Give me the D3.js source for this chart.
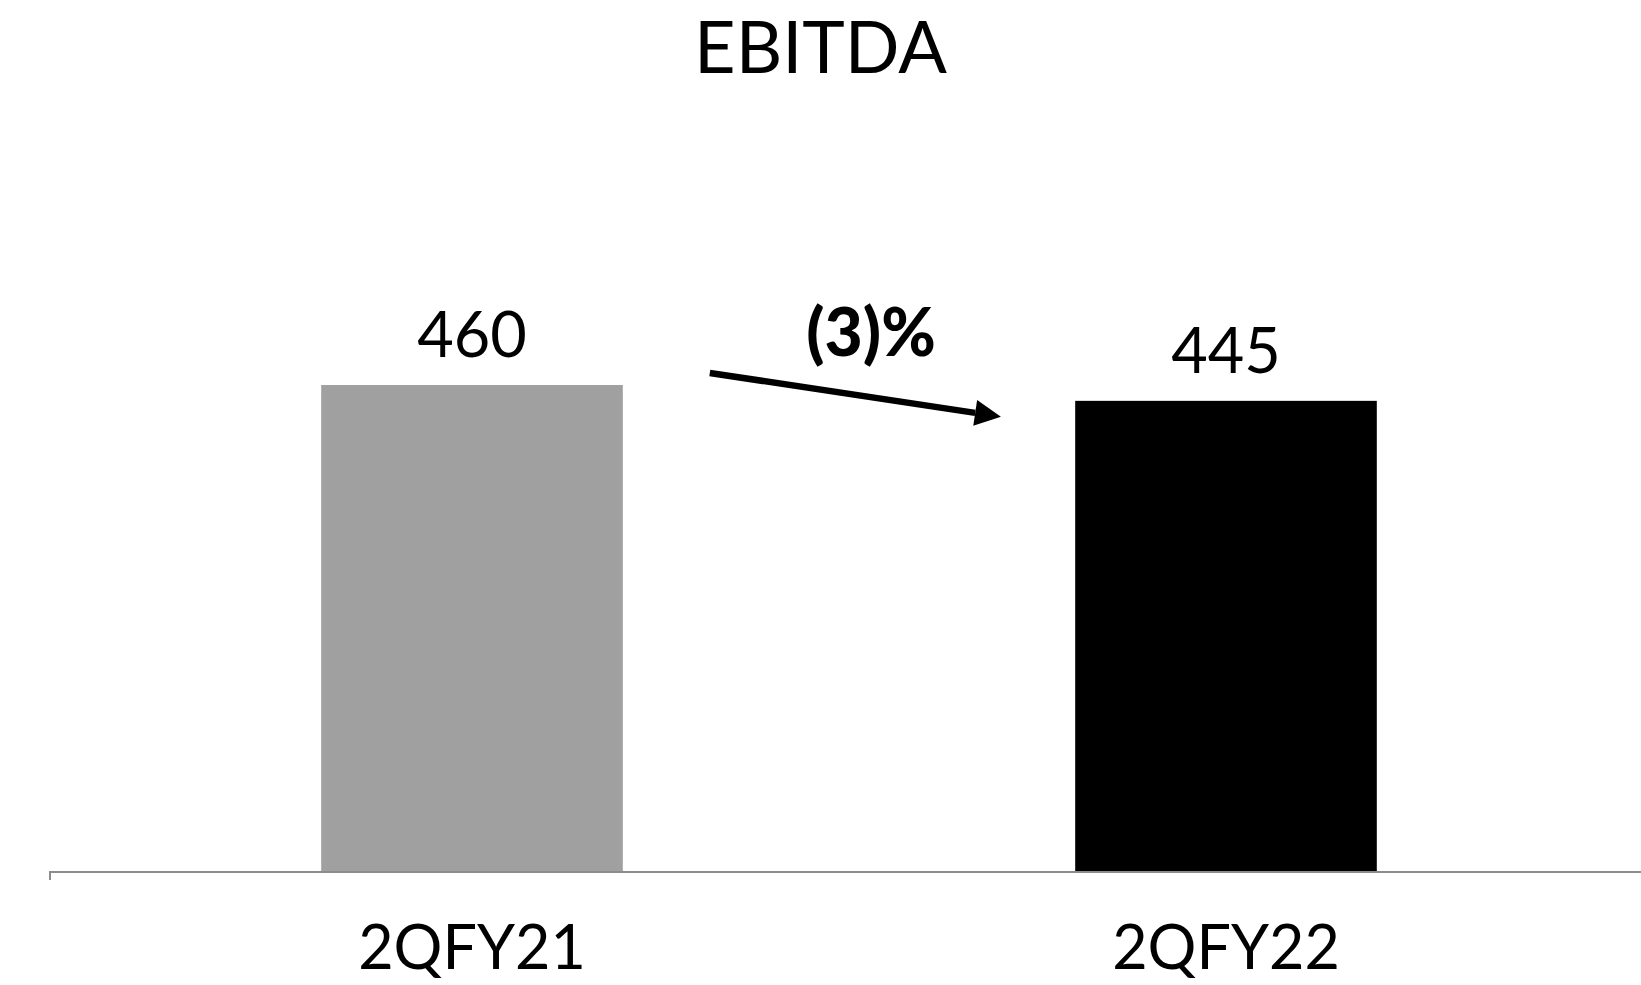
<!DOCTYPE html>
<html>
<head>
<meta charset="utf-8">
<script src="https://cdn.jsdelivr.net/npm/d3@7"></script>
<style>
  html, body { margin: 0; padding: 0; background: #fff; }
  svg { display: block; }
  text { font-family: Lato, "Noto Sans", sans-serif; fill: #000; }
</style>
</head>
<body>
<svg id="chart" width="1641" height="985"></svg>
<script>
// EBITDA by quarter
const periods = ["2QFY21", "2QFY22"];
const ebitda = [460, 445];
const barColors = ["#a0a0a0", "#000000"];
const changeLabel = "(3)%";
const title = "EBITDA";

const W = 1641, H = 985;
const svg = d3.select("#chart");

const x = d3.scaleBand()
  .domain(periods)
  .range([95, 1603])
  .paddingInner(0.6)
  .paddingOuter(0.3);

const y = d3.scaleLinear()
  .domain([0, 460])
  .range([871, 385]);

// Title
svg.append("text")
  .attr("x", W / 2)
  .attr("y", 73)
  .attr("text-anchor", "middle")
  .style("font-size", "72px")
  .text(title);

// Bars
svg.selectAll("rect.bar")
  .data(periods)
  .join("rect")
  .attr("class", "bar")
  .attr("x", d => x(d))
  .attr("width", x.bandwidth())
  .attr("y", (d, i) => y(ebitda[i]))
  .attr("height", (d, i) => y(0) - y(ebitda[i]))
  .attr("fill", (d, i) => barColors[i]);

// Value labels
svg.selectAll("text.value")
  .data(periods)
  .join("text")
  .attr("class", "value")
  .attr("x", d => x(d) + x.bandwidth() / 2)
  .attr("y", (d, i) => y(ebitda[i]) - 28)
  .attr("text-anchor", "middle")
  .style("font-size", "63px")
  .text((d, i) => ebitda[i]);

// Baseline with a single tick at its left end
svg.append("line")
  .attr("x1", 49).attr("x2", W)
  .attr("y1", y(0) + 1).attr("y2", y(0) + 1)
  .attr("stroke", "#8c8c8c").attr("stroke-width", 2);
svg.append("line")
  .attr("x1", 50).attr("x2", 50)
  .attr("y1", y(0)).attr("y2", y(0) + 9)
  .attr("stroke", "#8c8c8c").attr("stroke-width", 2);

// Category labels
const xAxis = svg.append("g")
  .attr("transform", `translate(0,${y(0)})`)
  .call(d3.axisBottom(x).tickSize(0).tickPadding(55));
xAxis.select(".domain").remove();
xAxis.selectAll("text")
  .style("font-family", "Lato, 'Noto Sans', sans-serif")
  .style("font-size", "61px")
  .attr("fill", "#000");

// Change arrow between the bars
const defs = svg.append("defs");
defs.append("marker")
  .attr("id", "arrowhead")
  .attr("viewBox", "0 0 10 10")
  .attr("refX", 0).attr("refY", 5)
  .attr("markerWidth", 4.4).attr("markerHeight", 4)
  .attr("markerUnits", "strokeWidth")
  .attr("orient", "auto")
  .append("path")
  .attr("d", "M0,0 L10,5 L0,10 Z")
  .attr("fill", "#000");

const ax1 = x(periods[0]) + x.bandwidth() + 87;
const ay1 = y(ebitda[0]) - 12;
const ax2 = x(periods[1]) - 100;
const ay2 = y(ebitda[1]) + 12;
svg.append("line")
  .attr("x1", ax1).attr("y1", ay1)
  .attr("x2", ax2).attr("y2", ay2)
  .attr("stroke", "#000").attr("stroke-width", 6.5)
  .attr("marker-end", "url(#arrowhead)");

svg.append("text")
  .attr("x", 871)
  .attr("y", 356)
  .attr("text-anchor", "middle")
  .style("font-size", "66px")
  .style("font-weight", 900)
  .text(changeLabel);
</script>
</body>
</html>
